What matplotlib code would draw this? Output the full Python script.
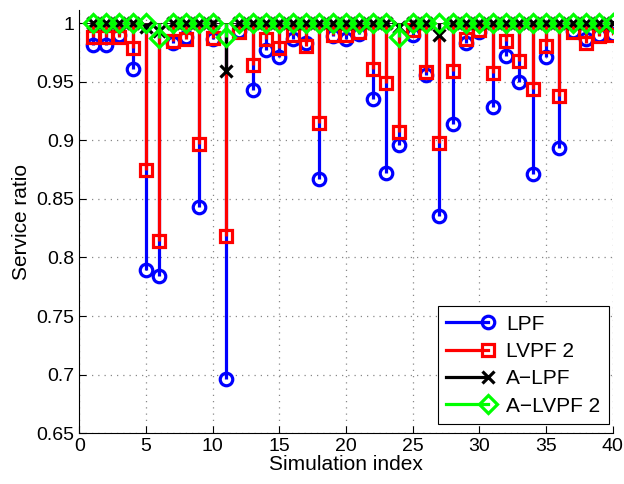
import numpy as np
import matplotlib.pyplot as plt
from matplotlib.lines import Line2D
from matplotlib.legend_handler import HandlerLine2D

plt.rcParams['font.family'] = ['Liberation Sans', 'DejaVu Sans']

idx = np.arange(1, 41)

lpf = [0.981, 0.981, 0.990, 0.961, 0.789, 0.784, 0.983, 0.988, 0.843, 0.986,
       0.696, 0.993, 0.943, 0.977, 0.971, 0.986, 0.983, 0.867, 0.989, 0.986,
       0.991, 0.935, 0.872, 0.896, 0.990, 0.956, 0.835, 0.914, 0.983, 0.992,
       0.928, 0.972, 0.950, 0.871, 0.971, 0.893, 0.993, 0.986, 0.990, 0.991]
lvpf2 = [0.988, 0.988, 0.988, 0.979, 0.875, 0.814, 0.985, 0.986, 0.897, 0.987,
         0.818, 0.992, 0.964, 0.986, 0.979, 0.990, 0.980, 0.915, 0.990, 0.990,
         0.992, 0.961, 0.949, 0.907, 0.994, 0.958, 0.898, 0.959, 0.986, 0.994,
         0.957, 0.985, 0.968, 0.944, 0.980, 0.938, 0.992, 0.983, 0.989, 0.990]
alpf = [1.0, 1.0, 1.0, 1.0, 0.997, 0.993, 1.0, 1.0, 1.0, 1.0,
        0.959, 1.0, 1.0, 1.0, 1.0, 1.0, 1.0, 1.0, 1.0, 1.0,
        1.0, 1.0, 1.0, 0.997, 1.0, 1.0, 0.990, 1.0, 1.0, 1.0,
        1.0, 1.0, 1.0, 1.0, 1.0, 1.0, 1.0, 1.0, 1.0, 1.0]
alvpf2 = [1.0, 1.0, 1.0, 1.0, 1.0, 0.987, 1.0, 1.0, 1.0, 1.0,
          0.988, 1.0, 1.0, 1.0, 1.0, 1.0, 1.0, 1.0, 1.0, 1.0,
          1.0, 1.0, 1.0, 0.988, 1.0, 1.0, 1.0, 1.0, 1.0, 1.0,
          1.0, 1.0, 1.0, 1.0, 1.0, 1.0, 1.0, 1.0, 1.0, 1.0]

series = [
    ('LPF', lpf, 'blue', 'o'),
    ('LVPF 2', lvpf2, 'red', 's'),
    ('A\u2212LPF', alpf, 'black', 'x'),
    ('A\u2212LVPF 2', alvpf2, '#00ff00', 'D'),
]
msize = {'o': 9, 's': 8, 'x': 9, 'D': 9}

fig = plt.figure(figsize=(6.24, 4.84), dpi=100)
ax = fig.add_axes([0.127, 0.105, 0.855, 0.874])

base = 1.0
ax.axhline(base, color='black', lw=0.6, zorder=1.5)

handles = []
for k, (name, vals, col, mk) in enumerate(series):
    z = 2 + k
    ax.vlines(idx, vals, base, colors=col, lw=2.3, zorder=z)
    ax.plot(idx, vals, linestyle='none', marker=mk, ms=msize[mk],
            mfc='none', mec=col, mew=2.3, zorder=z + 0.5)
    handles.append(Line2D([], [], color=col, lw=2.3, marker=mk, ms=msize[mk],
                          mfc='none', mec=col, mew=2.3, label=name))


class StemHandler(HandlerLine2D):
    def create_artists(self, *args, **kwargs):
        arts = super().create_artists(*args, **kwargs)
        arts[0].set_markevery([2])
        return arts


ax.set_xlim(0, 40)
ax.set_ylim(0.65, 1.011)
ax.set_xticks(np.arange(0, 41, 5))
yt = [0.65, 0.7, 0.75, 0.8, 0.85, 0.9, 0.95, 1.0]
ax.set_yticks(yt)
ax.set_yticklabels(['0.65', '0.7', '0.75', '0.8', '0.85', '0.9', '0.95', '1'])
ax.tick_params(direction='in', labelsize=14, length=5, width=0.8)
ax.grid(True, linestyle=(0, (1, 4)), color='#888888', linewidth=0.9)
ax.set_axisbelow(True)
ax.spines['top'].set_visible(False)
ax.spines['right'].set_visible(False)

ax.set_xlabel('Simulation index', fontsize=15, labelpad=0)
ax.set_ylabel('Service ratio', fontsize=15, labelpad=4)

leg = ax.legend(handles=handles, loc='lower right', fontsize=15, numpoints=1,
                handler_map={Line2D: StemHandler()}, fancybox=False,
                edgecolor='black', framealpha=1, handlelength=2.0,
                borderpad=0.4, labelspacing=0.4, handletextpad=0.9,
                bbox_to_anchor=(1.012, -0.003))
leg.get_frame().set_linewidth(0.8)

fig.savefig('out.png', dpi=100)
